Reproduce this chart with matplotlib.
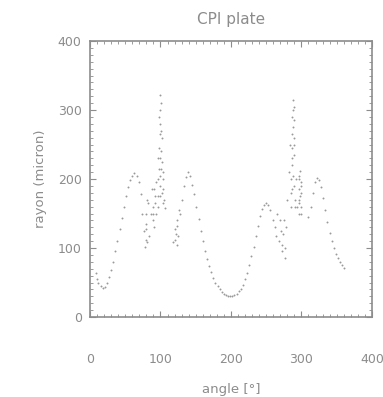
import matplotlib.pyplot as plt
from matplotlib.ticker import MultipleLocator

# Rayon mesuré le long de la plaque, en fonction de l'angle
angle = [8, 10, 12, 15, 18, 21, 24, 27, 30, 33, 36, 39, 42, 45, 48, 51, 54, 57, 60, 63,
         66, 69, 72, 74, 76, 78, 79, 80, 82, 84, 86, 88, 89, 90, 92, 93, 94, 96, 97, 98,
         99, 100, 101, 102, 103, 104, 105, 106,
         118, 120, 121, 122, 124, 127, 130, 133, 136, 139, 142, 145, 148, 151, 154, 157,
         160, 163, 166, 169, 172, 175, 178, 181, 184, 187, 190, 193, 196, 199, 202, 205,
         208, 211, 214, 217, 220, 223, 226, 229, 232, 235, 238, 241, 244, 247, 250, 253,
         256, 259, 262, 264, 266, 268, 270, 272, 274, 276, 278, 280, 282, 284, 285, 286,
         287, 288, 289, 290, 291, 292, 294, 296, 297, 298, 299, 300,
         310, 313, 316, 319, 322, 325, 328, 331, 334, 337, 340, 343, 346, 349, 352, 355,
         358, 361]
rayon = [64, 55, 50, 45, 42, 44, 50, 58, 68, 80, 95, 110, 127, 143, 160, 175, 188, 198, 205, 208,
         205, 195, 178, 150, 125, 102, 112, 135, 165, 118, 150, 185, 160, 140, 175, 150, 195, 230, 175, 290,
         205, 322, 240, 260, 185, 200, 170, 158,
         108, 128, 112, 120, 140, 150, 170, 190, 203, 210, 205, 192, 178, 160, 142, 125,
         110, 96, 84, 74, 65, 57, 50, 45, 40, 36, 34, 32, 31, 31, 31, 32,
         34, 37, 41, 47, 55, 64, 75, 88, 102, 117, 132, 146, 157, 163, 165, 162,
         155, 140, 130, 118, 150, 110, 140, 95, 120, 86, 130, 170, 210, 250, 180, 290,
         220, 315, 250, 260, 170, 200, 160, 200, 165, 175, 190, 150,
         145, 160, 180, 195, 201, 198, 188, 172, 155, 138, 122, 110, 100, 92, 85, 79,
         75, 71]

# Mesures dispersées dans les zones de pics
angle_pics = [79, 80, 81, 81, 90, 91, 91, 92,
              97, 97, 98, 98, 99, 99, 99, 100, 100, 100, 101, 101, 101, 102, 102, 103, 103,
              123, 124, 125, 126,
              271, 273, 275, 277,
              285, 285, 286, 286, 287, 287, 288, 288, 288, 289, 289, 290, 290, 291,
              296, 296, 297, 297, 298, 299, 299, 300]
rayon_pics = [150, 128, 170, 108, 150, 185, 130, 165,
              160, 200, 215, 245, 175, 230, 265, 190, 280, 300, 215, 270, 310, 180, 225, 165, 210,
              105, 132, 118, 155,
              125, 105, 140, 100,
              160, 200, 230, 265, 185, 245, 275, 300, 205, 285, 235, 305, 190, 160,
              150, 185, 205, 170, 212, 160, 195, 180]

gris = '#8c8c8c'

fig = plt.figure(figsize=(3.83, 3.97), dpi=100)
ax = fig.add_axes([0.235, 0.2015, 0.736, 0.6952])

style_points = dict(linestyle='none', marker='o', markersize=1.4,
                    markeredgewidth=0, color='#9a9a9a')
ax.plot(angle, rayon, **style_points)
ax.plot(angle_pics, rayon_pics, **style_points)

ax.set_xlim(0, 400)
ax.set_ylim(0, 400)
ax.xaxis.set_major_locator(MultipleLocator(100))
ax.yaxis.set_major_locator(MultipleLocator(100))
ax.xaxis.set_minor_locator(MultipleLocator(10))
ax.yaxis.set_minor_locator(MultipleLocator(10))

ax.tick_params(which='both', direction='in', top=True, right=True, colors=gris,
               labelcolor=gris, labelsize=9)
ax.tick_params(which='major', length=4, width=0.8)
ax.tick_params(which='minor', length=2, width=0.6)
ax.tick_params(axis='x', which='major', pad=26)
ax.tick_params(axis='y', which='major', pad=6)
for s in ax.spines.values():
    s.set_color(gris)
    s.set_linewidth(1.2)

ax.set_title('CPI plate', color=gris, fontsize=11, pad=12)
ax.set_xlabel('angle [°]', color=gris, fontsize=9.5, labelpad=12)
ax.set_ylabel('rayon (micron)', color=gris, fontsize=9.5, labelpad=8)

fig.savefig('out.png', dpi=100)
